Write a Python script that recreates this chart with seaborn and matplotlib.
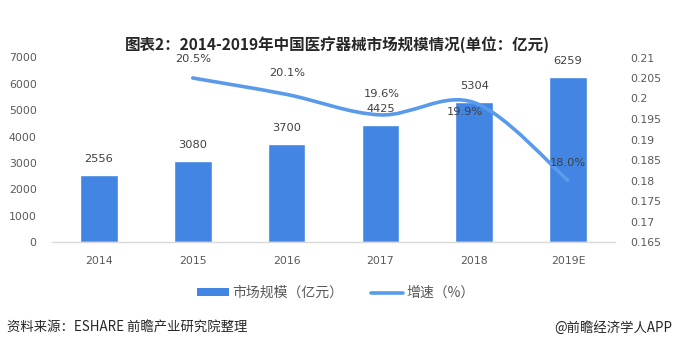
import numpy as np
import pandas as pd
import matplotlib
matplotlib.use("Agg")
import matplotlib.pyplot as plt
from matplotlib.path import Path
from matplotlib.patches import PathPatch
from matplotlib.lines import Line2D
from matplotlib.patches import Patch
import seaborn as sns

# ---- data ----
years = ["2014", "2015", "2016", "2017", "2018", "2019E"]
market = [2556, 3080, 3700, 4425, 5304, 6259]
growth_years = ["2015", "2016", "2017", "2018", "2019E"]
growth = [0.205, 0.201, 0.196, 0.199, 0.180]
growth_labels = ["20.5%", "20.1%", "19.6%", "19.9%", "18.0%"]
left_ticks = [0, 1000, 2000, 3000, 4000, 5000, 6000, 7000]
right_ticks = [0.165, 0.17, 0.175, 0.18, 0.185, 0.19, 0.195, 0.2, 0.205, 0.21]
right_tick_labels = ["0.165", "0.17", "0.175", "0.18", "0.185", "0.19", "0.195", "0.2", "0.205", "0.21"]

title = "图表2：2014-2019年中国医疗器械市场规模情况(单位：亿元)"
bar_name = "市场规模（亿元）"
line_name = "增速（%）"
source = "资料来源：ESHARE 前瞻产业研究院整理"
credit = "@前瞻经济学人APP"

sns.set_theme(style="white")
plt.rcParams['font.family'] = ['Noto Sans CJK SC', 'DejaVu Sans']

bar_color = "#4285E2"
line_color = "#5A9AEA"
tick_color = "#595959"
label_color = "#404040"

fig = plt.figure(figsize=(6.74, 3.5), dpi=100)
ax = fig.add_axes([52/674, 1-242/350, (615-52)/674, (242-57.5)/350])

df = pd.DataFrame({"year": years, "market": market})
sns.barplot(data=df, x="year", y="market", color=bar_color, width=0.4,
            saturation=1, ax=ax)
ax.set_xlim(-0.5, 5.5)
ax.set_ylim(0, 7000)
ax.set_yticks(left_ticks)
ax.set_xlabel("")
ax.set_ylabel("")
for s in ["top", "left", "right"]:
    ax.spines[s].set_visible(False)
ax.spines["bottom"].set_color("#D9D9D9")
ax.spines["bottom"].set_linewidth(1)
ax.tick_params(axis="both", length=0, colors=tick_color)
ax.tick_params(axis="y", pad=11)
ax.tick_params(axis="x", pad=10)
for t in ax.get_xticklabels() + ax.get_yticklabels():
    t.set_fontfamily("DejaVu Sans")
    t.set_fontsize(7.8)
    t.set_color(tick_color)

for i, v in enumerate(market):
    ax.annotate(str(v), (i, v), xytext=(0, 16), textcoords="offset pixels",
                ha="center", va="center", fontsize=8.2, color=label_color,
                family="DejaVu Sans")

# ---- growth line (smooth curve through points) ----
ax2 = ax.twinx()
ax2.set_ylim(0.165, 0.21)
ax2.set_yticks(right_ticks)
ax2.set_yticklabels(right_tick_labels)
for s in ["top", "left", "right", "bottom"]:
    ax2.spines[s].set_visible(False)
ax2.tick_params(axis="y", length=0, pad=11, colors=tick_color)
for t in ax2.get_yticklabels():
    t.set_fontfamily("DejaVu Sans")
    t.set_fontsize(7.8)
    t.set_color(tick_color)

xs = np.array([years.index(y) for y in growth_years], dtype=float)
ys = np.array(growth, dtype=float)
pts = np.column_stack([xs, ys])
verts = [tuple(pts[0])]
codes = [Path.MOVETO]
n = len(pts)
for i in range(n - 1):
    p0 = pts[i - 1] if i > 0 else pts[i]
    p1 = pts[i]
    p2 = pts[i + 1]
    p3 = pts[i + 2] if i + 2 < n else pts[i + 1]
    c1 = p1 + (p2 - p0) / 6.0
    c2 = p2 - (p3 - p1) / 6.0
    verts += [tuple(c1), tuple(c2), tuple(p2)]
    codes += [Path.CURVE4] * 3
patch = PathPatch(Path(verts, codes), facecolor="none", edgecolor=line_color,
                  linewidth=2.6, capstyle="round", joinstyle="round")
ax2.add_patch(patch)

offsets = [(0, 19), (1, 21), (1, 21), (-9, -9), (0, 18)]
for xv, yv, lab, off in zip(xs, ys, growth_labels, offsets):
    ax2.annotate(lab, (xv, yv), xytext=off, textcoords="offset pixels",
                 ha="center", va="center", fontsize=8.2, color=label_color,
                 family="DejaVu Sans")

# ---- title, legend, footer ----
fig.text(337/674, 1-45/350, title, ha="center", va="center",
         fontsize=11.2, fontweight="bold", color="#262626")

handles = [Patch(facecolor=bar_color, edgecolor="none"),
           Line2D([0], [0], color=line_color, linewidth=2.6, solid_capstyle="round")]
fig.legend(handles, [bar_name, line_name], loc="center",
           bbox_to_anchor=(336/674, 1-293/350), ncol=2, frameon=False,
           fontsize=10, handlelength=2.3, handleheight=0.5, handletextpad=0.25,
           columnspacing=2.0, labelcolor=tick_color)

fig.text(7/674, 1-328/350, source, ha="left", va="center", fontsize=9.6, color="#262626")
fig.text(672/674, 1-328/350, credit, ha="right", va="center", fontsize=9.6, color="#262626")

fig.savefig("out.png", dpi=100)
